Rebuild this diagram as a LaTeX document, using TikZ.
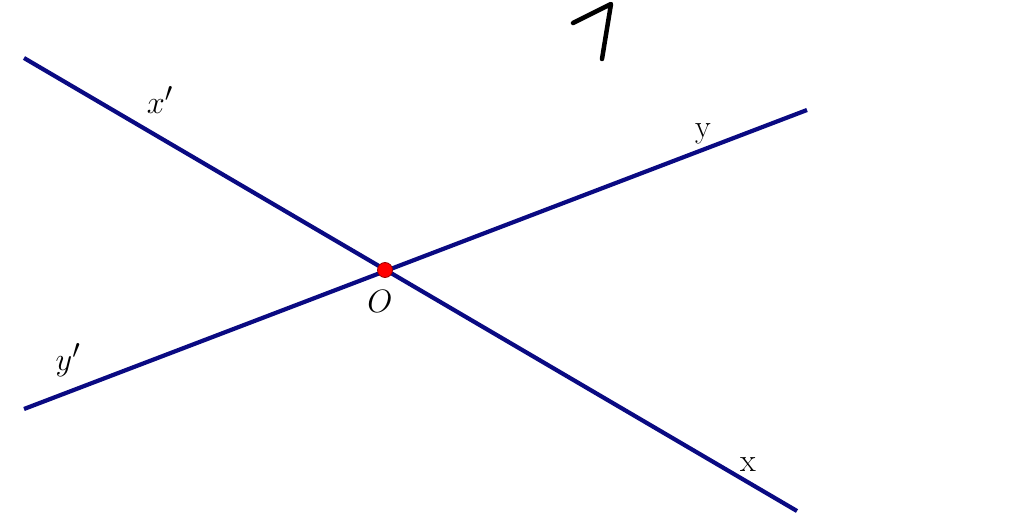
\documentclass[tikz,border=0pt]{standalone}
\usepackage{xcolor}
\usepackage{tikz}
\usetikzlibrary{positioning}

\definecolor{linenavy}{RGB}{10,10,130}

\begin{document}
\begin{tikzpicture}[
          x=1pt, y=-1pt,
          axis/.style={draw=linenavy, line width=4.2pt},
          lbl/.style={inner sep=0pt, font=\fontsize{24.88}{30}\selectfont, scale=1.3, transform shape},
          dot/.style={circle, fill=red, draw=red!60!black, line width=0.8pt, inner sep=0pt, minimum size=15pt},
          hand/.style={line width=4.5pt, line cap=round, line join=round},
		]
            \useasboundingbox (0,0) rectangle (1024,524);
			\coordinate (xp) at (24,58);
			\coordinate (x) at (797,511);
			\coordinate (yp) at (24,409);
			\coordinate (y) at (807,110);
            \draw[axis] (xp) -- (x);
            \draw[axis] (yp) -- (y);
			\node[dot] (O) at (385,270) {};
			\node[lbl] (Olbl) at (380,301) {$O$};
			\node[lbl] (xplbl) at (160,100) {$x'$};
			\node[lbl] (ylbl) at (703,134) {y};
			\node[lbl] (yplbl) at (68,360) {$y'$};
			\node[lbl] (xlbl) at (748,465) {x};
            % handwritten mark
            \coordinate (h1) at (573,23);
            \coordinate (h2) at (611,4);
            \coordinate (h3) at (602,59);
            \draw[hand] (h1) -- (h2) -- (h3);
		 \end{tikzpicture}
\end{document}
